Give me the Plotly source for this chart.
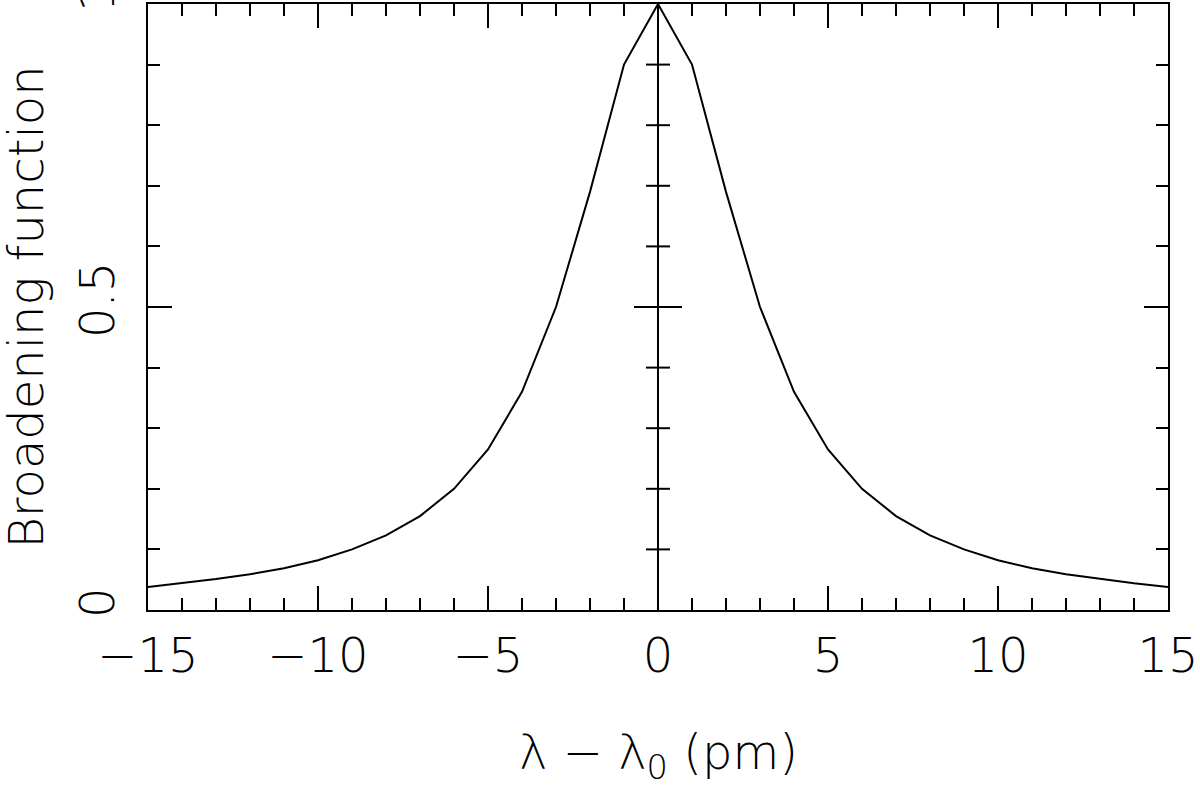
import plotly.graph_objects as go

# wavelength offset (pm) and broadening function
offset = list(range(-15, 16))
broadening = [
    0.038, 0.044, 0.051, 0.059, 0.069, 0.082, 0.100, 0.123, 0.155, 0.200,
    0.265, 0.360, 0.500, 0.690, 0.900, 1.000, 0.900, 0.690, 0.500, 0.360,
    0.265, 0.200, 0.155, 0.123, 0.100, 0.082, 0.069, 0.059, 0.051, 0.044,
    0.038,
]
y_ticks = [0, 0.5, 1]
y_tick_labels = ["0", "0.5", "1"]
x_ticks = [-15, -10, -5, 0, 5, 10, 15]
x_tick_labels = ["\u221215", "\u221210", "\u22125", "0", "5", "10", "15"]

FONT = "DejaVu Sans"
font = dict(family=FONT, size=48, color="black", weight=200)

fig = go.Figure()
fig.add_trace(
    go.Scatter(x=offset, y=broadening, mode="lines",
               line=dict(color="black", width=2), hoverinfo="skip")
)

axis_style = dict(
    showline=True, linecolor="black", linewidth=2, mirror="allticks",
    ticks="inside", ticklen=24, tickwidth=2, tickcolor="black",
    showgrid=False, automargin=False, ticklabeloverflow="allow",
    tickfont=font,
)

fig.update_xaxes(
    range=[-15, 15], tickvals=x_ticks, ticktext=x_tick_labels,
    minor=dict(dtick=1, tick0=0, ticklen=12, tickwidth=2, tickcolor="black",
               ticks="inside", showgrid=False),
    zeroline=True, zerolinecolor="black", zerolinewidth=2,
    ticklabelstandoff=2,
    **axis_style,
)
fig.update_yaxes(
    range=[0, 1], tickvals=y_ticks, ticktext=y_tick_labels, tickangle=-90,
    minor=dict(dtick=0.1, tick0=0, ticklen=12, tickwidth=2, tickcolor="black",
               ticks="inside", showgrid=False),
    zeroline=False, ticklabelstandoff=13,
    **axis_style,
)

# ticks crossing the vertical line at zero offset
for i in range(1, 10):
    v = i / 10
    half = 24 if v == 0.5 else 12
    fig.add_shape(
        type="line", xref="x", yref="y", x0=-half, x1=half, y0=v, y1=v,
        xsizemode="pixel", xanchor=0, line=dict(color="black", width=2),
    )

fig.add_annotation(
    text="\u03bb \u2212 \u03bb<sub>0</sub> (pm)", xref="paper", yref="paper",
    x=0.5, y=-0.24, xanchor="center", yanchor="middle", showarrow=False,
    font=font,
)
fig.add_annotation(
    text="Broadening function", xref="paper", yref="paper",
    x=-0.12, y=0.5, xanchor="center", yanchor="middle", textangle=-90,
    showarrow=False, font=font,
)

fig.update_layout(
    width=1200, height=793,
    margin=dict(l=148, r=32, t=4, b=183),
    paper_bgcolor="white", plot_bgcolor="white",
    showlegend=False,
)

fig.write_html(
    "out.html",
    config={"displayModeBar": False},
    post_script="document.body.style.margin='0';",
)
